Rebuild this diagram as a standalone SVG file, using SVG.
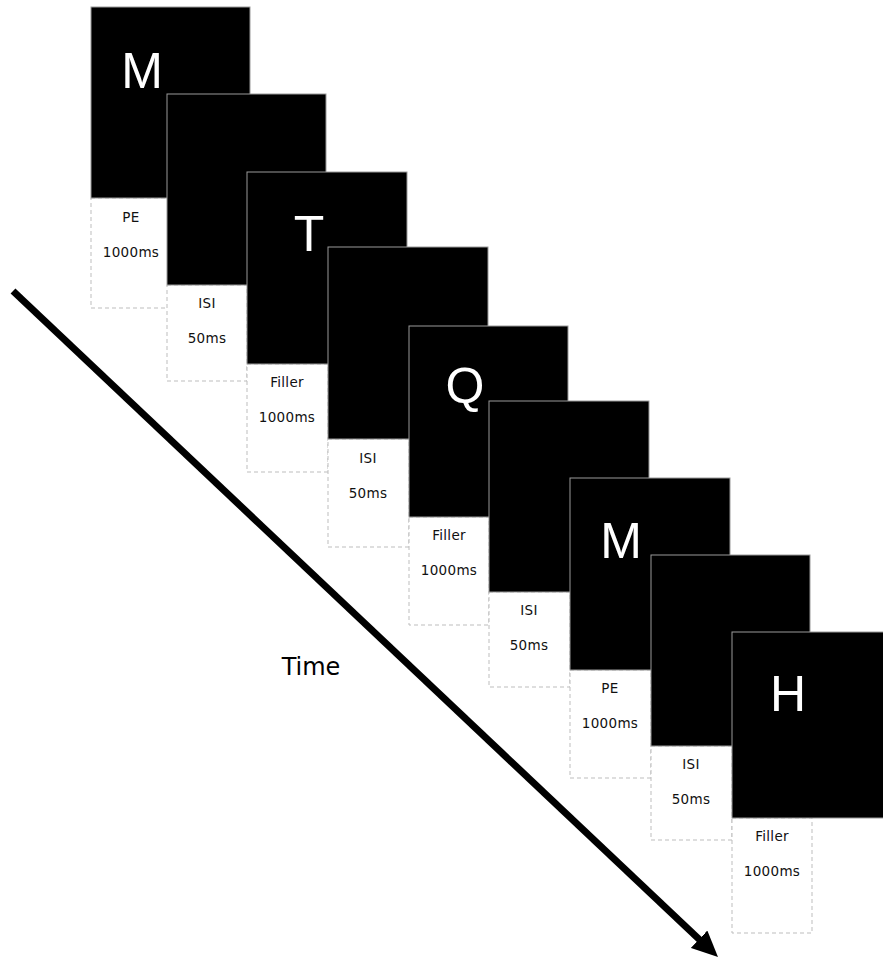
<svg xmlns="http://www.w3.org/2000/svg" width="883" height="959" viewBox="0 0 883 959">
<style>
.screen{fill:#000;stroke:#9a9a9a;stroke-width:1}
.dash{fill:#fff;stroke:#bdbdbd;stroke-width:1;stroke-dasharray:4 3}
.lbl{font-family:"DejaVu Sans",sans-serif;font-size:13.5px;letter-spacing:0.3px;fill:#111;text-anchor:middle}
.big{font-family:"Liberation Sans",Arial,sans-serif;font-size:50px;fill:#fff;text-anchor:middle}
.time{font-family:"DejaVu Sans",sans-serif;font-size:24px;fill:#000;text-anchor:middle}
.arrow{stroke:#000;stroke-width:7;fill:none}
</style>
<defs>
<marker id="head" markerUnits="userSpaceOnUse" viewBox="0 0 26 24" refX="4" refY="12" markerWidth="26" markerHeight="24" orient="auto">
<path d="M0,0 L26,12 L0,24 Z" fill="#000"/>
</marker>
</defs>
<g id="connectors">
<line class="arrow" x1="13" y1="291" x2="702" y2="942" marker-end="url(#head)"/>
</g>
<g id="card1">
<rect class="dash" x="91" y="198" width="80" height="110"/>
<text class="lbl" x="131" y="222">PE</text>
<text class="lbl" x="131" y="257">1000ms</text>
<rect class="screen" x="91" y="7" width="159" height="191"/>
<text class="big" x="142" y="88">M</text>
</g>
<g id="card2">
<rect class="dash" x="167" y="285" width="80" height="96"/>
<text class="lbl" x="207" y="308">ISI</text>
<text class="lbl" x="207" y="343">50ms</text>
<rect class="screen" x="167" y="94" width="159" height="191"/>
</g>
<g id="card3">
<rect class="dash" x="247" y="364" width="81" height="108"/>
<text class="lbl" x="287" y="387">Filler</text>
<text class="lbl" x="287" y="422">1000ms</text>
<rect class="screen" x="247" y="172" width="160" height="192"/>
<text class="big" x="309" y="251">T</text>
</g>
<g id="card4">
<rect class="dash" x="328" y="439" width="81" height="108"/>
<text class="lbl" x="368" y="463">ISI</text>
<text class="lbl" x="368" y="498">50ms</text>
<rect class="screen" x="328" y="247" width="160" height="192"/>
</g>
<g id="card5">
<rect class="dash" x="409" y="517" width="80" height="108"/>
<text class="lbl" x="449" y="540">Filler</text>
<text class="lbl" x="449" y="575">1000ms</text>
<rect class="screen" x="409" y="326" width="159" height="191"/>
<text class="big" x="465" y="403">Q</text>
</g>
<g id="card6">
<rect class="dash" x="489" y="592" width="81" height="95"/>
<text class="lbl" x="529" y="615">ISI</text>
<text class="lbl" x="529" y="650">50ms</text>
<rect class="screen" x="489" y="401" width="160" height="191"/>
</g>
<g id="card7">
<rect class="dash" x="570" y="670" width="81" height="108"/>
<text class="lbl" x="610" y="693">PE</text>
<text class="lbl" x="610" y="728">1000ms</text>
<rect class="screen" x="570" y="478" width="160" height="192"/>
<text class="big" x="621" y="558">M</text>
</g>
<g id="card8">
<rect class="dash" x="651" y="746" width="81" height="94"/>
<text class="lbl" x="691" y="769">ISI</text>
<text class="lbl" x="691" y="804">50ms</text>
<rect class="screen" x="651" y="555" width="159" height="191"/>
</g>
<g id="card9">
<rect class="dash" x="732" y="818" width="80" height="115"/>
<text class="lbl" x="772" y="841">Filler</text>
<text class="lbl" x="772" y="876">1000ms</text>
<rect class="screen" x="732" y="632" width="160" height="186"/>
<text class="big" x="788" y="711">H</text>
</g>
<g id="time-label">
<text class="time" x="311" y="675">Time</text>
</g>
</svg>
